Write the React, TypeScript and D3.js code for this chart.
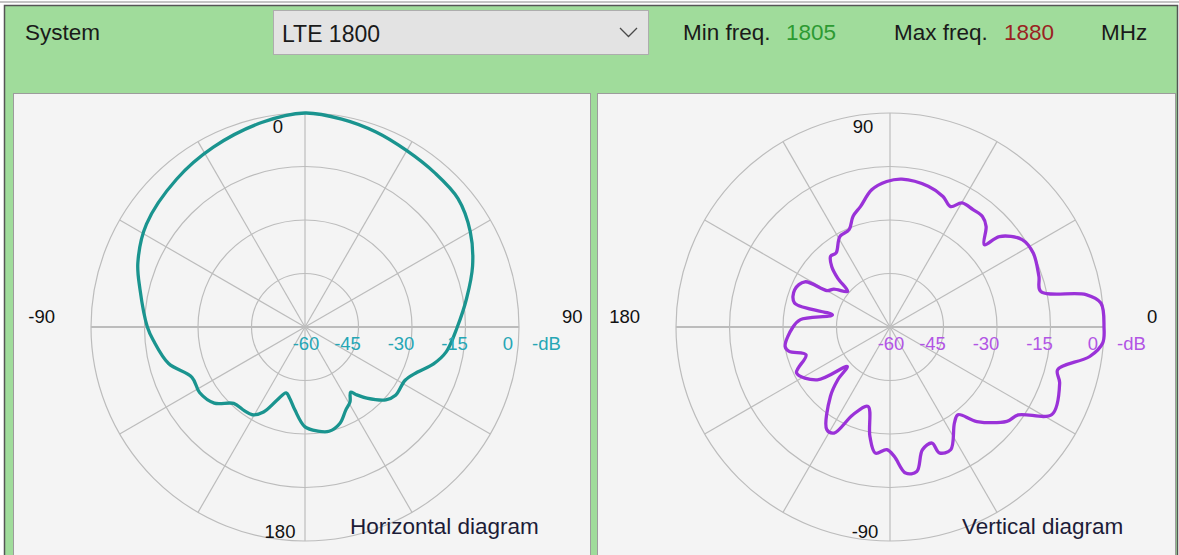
import React from "react";
import * as d3 from "d3";

const W = 1179;
const H = 555;

// dB rings and labels
const ringLevels = [-45, -30, -15, 0];
const dbTicks = [-60, -45, -30, -15, 0];
const spokeAngles = [0, 30, 60, 90, 120, 150, 180, 210, 240, 270, 300, 330];

// horizontal diagram: degrees clockwise from top, gain in dB
const hAngles = [0, 10, 20, 30, 40, 50, 60, 70, 80, 90, 100, 106, 112, 118, 127, 132, 139, 143, 145, 149, 154, 160, 167, 173, 180, 187, 192, 196, 201, 206, 211, 216, 223, 230, 238, 246, 255, 265, 270, 283, 291, 303, 319, 333, 348];
const hGain = [0, -0.8, -1.8, -2.9, -3.5, -4, -6.5, -10, -14, -17.3, -19.8, -22.5, -26.1, -28.2, -28.2, -29.5, -33.6, -36.3, -37.7, -35.5, -34, -31.3, -30, -30.6, -32, -36.6, -39.5, -40.8, -38, -33.5, -31.3, -31, -30.7, -26.8, -25.2, -25.3, -20.4, -17.3, -15.8, -12.5, -9.8, -7, -5.1, -3.4, -1.4];

// vertical diagram: degrees counter-clockwise from right, gain in dB
const vAngles = [0, 6.5, 9.4, 13.3, 18.8, 27.3, 33.5, 39.6, 41.1, 46.3, 50.1, 54.7, 59.9, 63.3, 67.9, 74.8, 85.4, 91.3, 97.6, 103.7, 108.5, 112.8, 119, 126, 130, 134, 137, 140, 146, 150, 152, 158.6, 165.9, 168, 175.3, 180, 190.5, 193.6, 198.3, 206.2, 216, 222.7, 225.3, 229.3, 238.4, 242.2, 247.1, 254.5, 259.6, 263.4, 268.5, 271.9, 276.1, 280.5, 284.8, 289.9, 291.4, 296.3, 303.9, 307.8, 312.6, 321.1, 325.6, 331.6, 341.7, 345.7, 351.6, 355.7];
const vGain = [0, -0.5, -4.3, -16.6, -15.9, -14.8, -15.6, -20.2, -24.9, -21, -19.6, -19.7, -19.8, -22.2, -20.5, -19.1, -18.4, -19.2, -21.2, -25.2, -27.3, -30.4, -31, -34.3, -34.1, -36.5, -40, -44.5, -41, -39.6, -33, -31.3, -32.4, -43.5, -34.8, -32.8, -30.1, -30.9, -35.2, -30.8, -34.8, -43.7, -39.2, -34.4, -26.2, -26.4, -33.3, -36.9, -28.8, -24.4, -25.6, -23.7, -18.8, -18.8, -24.4, -25.4, -22.1, -21.6, -27.6, -28.9, -24, -17.9, -16.4, -8.4, -9.9, -11.5, -3.4, -0.2];

const hAxisLabels = ["0", "90", "180", "-90"]; // top, right, bottom, left
const vAxisLabels = ["90", "0", "-90", "180"];

const FONT = "'Liberation Sans', Arial, sans-serif";

const r = d3.scaleLinear().domain([-60, 0]).range([0, 214]);

type PanelProps = {
  cx: number;
  cy: number;
  angles: number[];
  gains: number[];
  toRad: (deg: number) => number;
  color: string;
  labelColor: string;
  axisLabels: string[];
  title: string;
  titleDx: number;
};

const Polar = ({ cx, cy, angles, gains, toRad, color, labelColor, axisLabels, title, titleDx }: PanelProps) => {
  const pts = angles.map((a, i) => [a, gains[i]] as [number, number]);
  const line = d3
    .lineRadial<[number, number]>()
    .angle((d) => toRad(d[0]))
    .radius((d) => r(Math.max(-60, d[1])))
    .curve(d3.curveCatmullRomClosed.alpha(0.5));
  const R = r(0);
  return (
    <g transform={`translate(${cx},${cy})`}>
      {ringLevels.map((v) => (
        <circle key={v} r={r(v)} fill="none" stroke="#bcbcbc" strokeWidth={1.2} />
      ))}
      {spokeAngles.map((a) => {
        const t = (a * Math.PI) / 180;
        return (
          <line
            key={a}
            x1={0}
            y1={0}
            x2={R * Math.sin(t)}
            y2={-R * Math.cos(t)}
            stroke="#bcbcbc"
            strokeWidth={a === 90 || a === 270 ? 2.2 : 1.2}
          />
        );
      })}
      <path d={line(pts) || ""} fill="none" stroke={color} strokeWidth={3.3} strokeLinejoin="round" />
      {dbTicks.map((v) => (
        <text key={v} x={Math.max(r(v) - 11, 1)} y={23} textAnchor="middle" fontSize={18.5} fill={labelColor} fontFamily={FONT}>
          {v}
        </text>
      ))}
      <text x={R + 13} y={23} fontSize={18.5} fill={labelColor} fontFamily={FONT}>
        -dB
      </text>
      <text x={-27} y={-194} textAnchor="middle" fontSize={18.5} fill="#111" fontFamily={FONT}>
        {axisLabels[0]}
      </text>
      <text x={R + 43} y={-4} textAnchor="start" fontSize={18.5} fill="#111" fontFamily={FONT}>
        {axisLabels[1]}
      </text>
      <text x={-25} y={211} textAnchor="middle" fontSize={18.5} fill="#111" fontFamily={FONT}>
        {axisLabels[2]}
      </text>
      <text x={-R - 36} y={-4} textAnchor="end" fontSize={18.5} fill="#111" fontFamily={FONT}>
        {axisLabels[3]}
      </text>
      <text x={titleDx} y={207} fontSize={22.5} fill="#1c1c38" fontFamily={FONT}>
        {title}
      </text>
    </g>
  );
};

export default function App() {
  const cy = 327;
  return (
    <svg width={W} height={H} style={{ position: "absolute", left: 0, top: 0, background: "#fff" }}>
      <line x1={0} x2={W} y1={2} y2={2} stroke="#8a8a8a" strokeWidth={1.2} />
      <rect x={4.5} y={5.5} width={1173} height={560} fill="#a0dc9b" stroke="#555" strokeWidth={1.5} />

      <text x={25} y={40} fontSize={22.5} fill="#1a1a1a" fontFamily={FONT}>System</text>
      <rect x={273.5} y={10.5} width={375} height={44} fill="#e3e3e3" stroke="#adadad" />
      <text x={282} y={42} fontSize={23} fill="#1a1a1a" fontFamily={FONT}>LTE 1800</text>
      <polyline points="620,28 628.5,36.5 637,28" fill="none" stroke="#4a4a4a" strokeWidth={1.3} />
      <text x={683} y={40} fontSize={22.5} fill="#1a1a1a" fontFamily={FONT}>Min freq.</text>
      <text x={786} y={40} fontSize={22.5} fill="#2d9a32" fontFamily={FONT}>1805</text>
      <text x={894} y={40} fontSize={22.5} fill="#1a1a1a" fontFamily={FONT}>Max freq.</text>
      <text x={1004} y={40} fontSize={22.5} fill="#9a2222" fontFamily={FONT}>1880</text>
      <text x={1101} y={40} fontSize={22.5} fill="#1a1a1a" fontFamily={FONT}>MHz</text>

      <rect x={13.5} y={93.5} width={577} height={470} fill="#f4f4f4" stroke="#9c9c9c" />
      <rect x={597.5} y={93.5} width={578} height={470} fill="#f4f4f4" stroke="#9c9c9c" />

      <Polar
        cx={305}
        cy={cy}
        angles={hAngles}
        gains={hGain}
        toRad={(d) => (d * Math.PI) / 180}
        color="#1a948f"
        labelColor="#26a6b4"
        axisLabels={hAxisLabels}
        title="Horizontal diagram"
        titleDx={45}
      />
      <Polar
        cx={890}
        cy={cy}
        angles={vAngles}
        gains={vGain}
        toRad={(d) => ((90 - d) * Math.PI) / 180}
        color="#9a32d8"
        labelColor="#b255e4"
        axisLabels={vAxisLabels}
        title="Vertical diagram"
        titleDx={72}
      />
    </svg>
  );
}
